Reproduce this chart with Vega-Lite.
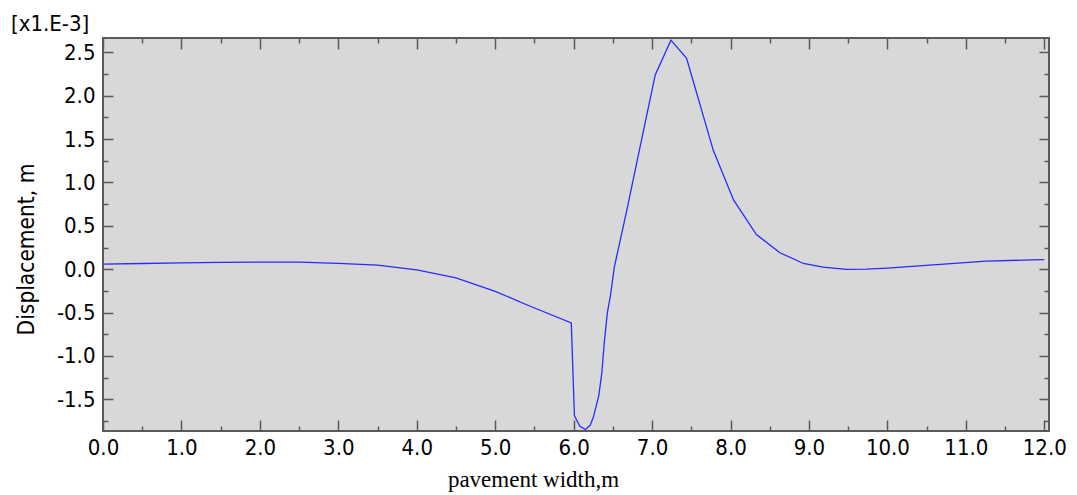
{
  "$schema": "https://vega.github.io/schema/vega-lite/v6.json",
  "width": 946,
  "height": 393,
  "autosize": {"type": "none"},
  "padding": {"left": 103, "top": 38, "right": 28, "bottom": 64},
  "background": "white",
  "title": {"text": "[x1.E-3]", "anchor": "start", "frame": "group", "dx": -92, "dy": 25, "offset": 9, "fontSize": 22, "font": "DejaVu Sans Condensed", "fontWeight": "normal", "color": "black", "baseline": "alphabetic"},
  "config": {
    "view": {"fill": "#d8d8d8", "stroke": "#5a5a5a", "strokeWidth": 2},
    "axis": {"grid": false, "domain": false, "labelFont": "DejaVu Sans Condensed", "labelFontSize": 22, "labelColor": "black", "tickColor": "#5a5a5a", "tickWidth": 1.5, "labelFlush": false, "labelOverlap": false}
  },
  "data": {"values": [
    {"x": 0.0, "y": 0.058}, {"x": 0.5, "y": 0.066}, {"x": 1.0, "y": 0.073}, {"x": 1.5, "y": 0.078},
    {"x": 2.0, "y": 0.081}, {"x": 2.5, "y": 0.082}, {"x": 3.0, "y": 0.068}, {"x": 3.5, "y": 0.046},
    {"x": 4.0, "y": -0.008}, {"x": 4.5, "y": -0.10}, {"x": 5.0, "y": -0.255}, {"x": 5.4, "y": -0.41},
    {"x": 5.97, "y": -0.62}, {"x": 6.01, "y": -1.69}, {"x": 6.08, "y": -1.81}, {"x": 6.15, "y": -1.847},
    {"x": 6.21, "y": -1.80}, {"x": 6.25, "y": -1.71}, {"x": 6.32, "y": -1.46}, {"x": 6.36, "y": -1.19},
    {"x": 6.39, "y": -0.85}, {"x": 6.43, "y": -0.50}, {"x": 6.47, "y": -0.30}, {"x": 6.52, "y": 0.03},
    {"x": 6.68, "y": 0.69}, {"x": 6.84, "y": 1.38}, {"x": 7.04, "y": 2.24}, {"x": 7.24, "y": 2.64},
    {"x": 7.44, "y": 2.43}, {"x": 7.78, "y": 1.37}, {"x": 8.04, "y": 0.795}, {"x": 8.33, "y": 0.40},
    {"x": 8.63, "y": 0.19}, {"x": 8.93, "y": 0.066}, {"x": 9.18, "y": 0.023}, {"x": 9.48, "y": -0.003},
    {"x": 9.73, "y": 0.0}, {"x": 10.0, "y": 0.012}, {"x": 10.54, "y": 0.046}, {"x": 11.26, "y": 0.092},
    {"x": 11.84, "y": 0.108}, {"x": 12.0, "y": 0.11}
  ]},
  "layer": [
    {
      "mark": {"type": "line", "color": "#2a2aff", "strokeWidth": 1.3},
      "encoding": {
        "x": {"field": "x", "type": "quantitative", "scale": {"domain": [0, 12.06], "nice": false, "zero": false},
          "axis": {"orient": "bottom", "values": [0,1,2,3,4,5,6,7,8,9,10,11,12], "format": ".1f", "ticks": false, "labelPadding": 6,
            "title": "pavement width,m", "titleFont": "Liberation Serif", "titleFontSize": 23, "titleFontWeight": "normal", "titleColor": "black",
            "titleX": 430, "titleY": 55, "titleBaseline": "alphabetic", "titleAlign": "center"}},
        "y": {"field": "y", "type": "quantitative", "scale": {"domain": [-1.865, 2.665], "nice": false, "zero": false},
          "axis": {"orient": "left", "values": [-1.5,-1.0,-0.5,0,0.5,1.0,1.5,2.0,2.5], "labelExpr": "replace(format(datum.value, '.1f'), '\u2212', '-')", "ticks": false, "labelPadding": 8,
            "title": "Displacement, m", "titleFont": "DejaVu Sans Condensed", "titleFontSize": 22.5, "titleFontWeight": "normal", "titleColor": "black",
            "titleAngle": 270, "titleX": -77, "titleY": 211, "titleBaseline": "middle", "titleAlign": "center"}}
      }
    },
    {
      "mark": {"type": "line", "opacity": 0},
      "encoding": {
        "x": {"field": "x", "type": "quantitative",
          "axis": {"orient": "bottom", "values": [0,0.5,1,1.5,2,2.5,3,3.5,4,4.5,5,5.5,6,6.5,7,7.5,8,8.5,9,9.5,10,10.5,11,11.5,12], "labels": false, "title": null,
            "tickSize": {"condition": {"test": "datum.value % 1 === 0", "value": -11}, "value": -5}}},
        "y": {"field": "y", "type": "quantitative",
          "axis": {"orient": "left", "values": [-1.75,-1.5,-1.25,-1.0,-0.75,-0.5,-0.25,0,0.25,0.5,0.75,1.0,1.25,1.5,1.75,2.0,2.25,2.5], "labels": false, "title": null,
            "tickSize": {"condition": {"test": "datum.value % 0.5 === 0", "value": -10}, "value": -5}}}
      }
    },
    {
      "mark": {"type": "line", "opacity": 0},
      "encoding": {
        "x": {"field": "x", "type": "quantitative",
          "axis": {"orient": "top", "values": [0,0.5,1,1.5,2,2.5,3,3.5,4,4.5,5,5.5,6,6.5,7,7.5,8,8.5,9,9.5,10,10.5,11,11.5,12], "labels": false, "title": null,
            "tickSize": {"condition": {"test": "datum.value % 1 === 0", "value": -11}, "value": -5}}},
        "y": {"field": "y", "type": "quantitative",
          "axis": {"orient": "right", "values": [-1.75,-1.5,-1.25,-1.0,-0.75,-0.5,-0.25,0,0.25,0.5,0.75,1.0,1.25,1.5,1.75,2.0,2.25,2.5], "labels": false, "title": null,
            "tickSize": {"condition": {"test": "datum.value % 0.5 === 0", "value": -10}, "value": -5}}}
      }
    }
  ],
  "resolve": {"axis": {"x": "independent", "y": "independent"}}
}
